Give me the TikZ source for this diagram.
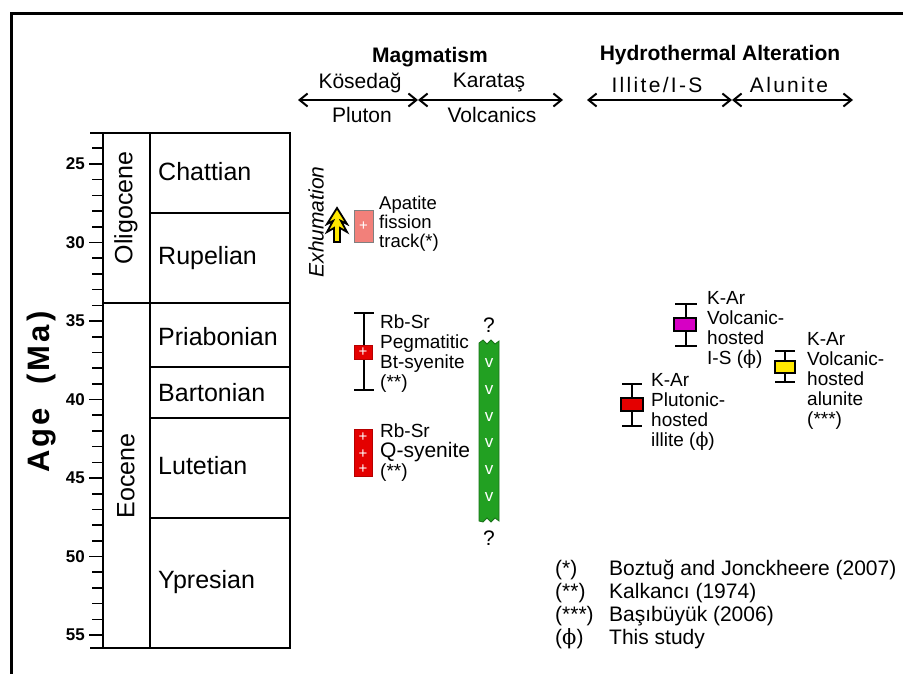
\documentclass[tikz,border=0pt]{standalone}
\usepackage{fontspec}
\setmainfont{Liberation Sans}
\newfontfamily\phifont{DejaVu Serif}
\newcommand{\ph}{{\phifont ϕ}}
\usetikzlibrary{arrows.meta}

\definecolor{salmon}{RGB}{242,128,122}
\definecolor{rockred}{RGB}{228,0,0}
\definecolor{ismag}{RGB}{214,0,196}
\definecolor{alyel}{RGB}{255,232,0}
\definecolor{volgreen}{RGB}{34,160,34}

\tikzset{
  stage/.style={anchor=base west, inner sep=0pt, font=\fontsize{25}{25}\selectfont},
  epoch/.style={rotate=90, inner sep=0pt, font=\fontsize{25}{25}\selectfont},
  ticklbl/.style={anchor=east, inner sep=0pt, font=\bfseries\fontsize{17}{17}\selectfont},
  hdr/.style={inner sep=0pt, font=\bfseries\fontsize{21}{21}\selectfont},
  sub/.style={inner sep=0pt, font=\fontsize{21}{21}\selectfont},
  spaced/.style={font=\fontsize{21}{21}\selectfont\addfontfeatures{LetterSpace=11}},
  span/.style={line width=2pt, {Straight Barb[length=8pt,width=13pt]}-{Straight Barb[length=8pt,width=13pt]}},
  smp/.style={anchor=west, inner sep=0pt, align=left, font=\fontsize{19}{20}\selectfont},
  errbar/.style={line width=1.5pt},
  agebox/.style={draw=black, line width=2pt, minimum width=22pt, minimum height=13pt, inner sep=0pt},
  rbbox/.style={fill=rockred, draw=rockred!80!black, line width=0.6pt, inner sep=0pt},
  plus/.style={text=white, inner sep=0pt, font=\fontsize{15}{15}\selectfont},
  vmark/.style={text=white, inner sep=0pt, font=\fontsize{17}{17}\selectfont},
  legtxt/.style={anchor=base west, inner sep=0pt, font=\fontsize{21}{22}\selectfont},
}

\begin{document}
\begin{tikzpicture}[x=1pt, y=-1pt]
\useasboundingbox (0,0) rectangle (903,674);
\draw[line width=3pt] (11,674) -- (11,14) -- (903,14);

% time scale
\node[rotate=90, inner sep=0pt, font=\bfseries\fontsize{31}{31}\selectfont\addfontfeatures{LetterSpace=10}] (agelbl) at (42,392) {Age\ \ (Ma)};
\draw[line width=2pt] (103,133) -- (103,648);
\foreach \m in {24,...,55} {
  \pgfmathsetmacro\yy{164+(\m-25)*15.7}
  \draw[line width=1.6pt] (92,\yy) -- (103,\yy);
}
\foreach \m in {25,30,...,55} {
  \pgfmathsetmacro\yy{164+(\m-25)*15.7}
  \draw[line width=1.6pt] (89,\yy) -- (103,\yy);
  \node[ticklbl] at (85,\yy) {\m};
}
\draw[line width=1.5pt] (90,133) -- (290,133) -- (290,648) -- (90,648);
\draw[line width=1.5pt] (150,133) -- (150,648);
\draw[line width=1.5pt] (103,303) -- (290,303);
\foreach \yb in {213,367,418,518}
  \draw[line width=1.5pt] (150,\yb) -- (290,\yb);
\node[epoch] (oligo) at (126,208) {Oligocene};
\node[epoch] (eoc) at (126,476) {Eocene};
\node[stage] (chat) at (158,181) {Chattian};
\node[stage] (rup) at (158,264) {Rupelian};
\node[stage] (pria) at (158,345) {Priabonian};
\node[stage] (bart) at (158,401) {Bartonian};
\node[stage] (lut) at (158,474) {Lutetian};
\node[stage] (ypr) at (158,588) {Ypresian};

% headers
\node[hdr] (magma) at (430,57) {Magmatism};
\node[hdr] (hydro) at (720,55) {Hydrothermal Alteration};
\coordinate (pL) at (298,100);
\coordinate (pM) at (418,100);
\coordinate (pR) at (563,100);
\coordinate (hL) at (587,100);
\coordinate (hM) at (732,100);
\coordinate (hR) at (853,100);
\draw[span] (pL) -- (pM);
\draw[span] (pM) -- (pR);
\draw[span] (hL) -- (hM);
\draw[span] (hM) -- (hR);
\node[sub] (kos) at (360,83) {Kösedağ};
\node[sub] (plu) at (362,115) {Pluton};
\node[sub] (kar) at (489,83) {Karataş};
\node[sub] (vol) at (492,115) {Volcanics};
\node[sub, spaced] (ill) at (657,85) {Illite/I-S};
\node[sub, spaced] (alu) at (789,85) {Alunite};

% exhumation
\node[rotate=90, inner sep=0pt, font=\itshape\fontsize{21}{21}\selectfont] (exh) at (316,222) {Exhumation};
\draw[fill=alyel, line width=1.8pt, line join=miter, shift={(337,225)}]
  (0,-17) -- (10,-1) -- (4,-4) -- (10,7) -- (3,3) -- (3,17) -- (-3,17)
  -- (-3,3) -- (-10,7) -- (-4,-4) -- (-10,-1) -- cycle;
\node[fill=salmon, draw=gray, line width=0.5pt, minimum width=19pt, minimum height=32pt, inner sep=0pt] (aft) at (363.5,226) {};
\node[plus] at (aft) {+};
\node[smp, font=\fontsize{18.5}{19}\selectfont] (aftlbl) at (379,224) {Apatite\\fission\\track(*)};

% Rb-Sr pegmatitic
\coordinate (pegT) at (364,313);
\coordinate (pegB) at (364,390);
\draw[errbar] (pegT) -- (pegB);
\draw[errbar] ([xshift=-10pt]pegT) -- ([xshift=10pt]pegT);
\draw[errbar] ([xshift=-10pt]pegB) -- ([xshift=10pt]pegB);
\node[rbbox, minimum width=18pt, minimum height=14pt] (peg) at (363,352) {};
\node[plus] at (peg) {+};
\node[smp] (peglbl) at (380,354) {Rb-Sr\\Pegmatitic\\Bt-syenite\\(**)};

% Rb-Sr Q-syenite
\node[rbbox, minimum width=18pt, minimum height=47pt] (qsy) at (363,452.5) {};
\foreach \yp in {437,454,469}
  \node[plus] at (363,\yp) {+};
\node[smp] (qsylbl) at (380,453) {Rb-Sr\\{\fontsize{21}{20}\selectfont Q-syenite}\\(**)};

% Karatas volcanics
\draw[fill=volgreen, draw=volgreen!70!black, line width=0.8pt]
  (479,521) -- (479,343) -- (483,340) -- (487,344) -- (491,340) -- (495,344) -- (499,341)
  -- (499,521) -- (495,518) -- (491,522) -- (487,518) -- (483,522) -- cycle;
\foreach \yv in {363,390,417,443,470,497}
  \node[vmark] at (489,\yv) {v};
\node[sub] (qtop) at (489,325) {?};
\node[sub] (qbot) at (489,538) {?};

% K-Ar volcanic-hosted I-S
\coordinate (isT) at (686,304);
\coordinate (isB) at (686,346);
\draw[errbar] (isT) -- (isB);
\draw[errbar] ([xshift=-11pt]isT) -- ([xshift=11pt]isT);
\draw[errbar] ([xshift=-11pt]isB) -- ([xshift=11pt]isB);
\node[agebox, fill=ismag] (is) at (685,324.5) {};
\node[smp] (islbl) at (707,330) {K-Ar\\Volcanic-\\hosted\\I-S (\ph)};

% K-Ar plutonic-hosted illite
\coordinate (ilT) at (632,384);
\coordinate (ilB) at (632,426);
\draw[errbar] (ilT) -- (ilB);
\draw[errbar] ([xshift=-10pt]ilT) -- ([xshift=10pt]ilT);
\draw[errbar] ([xshift=-10pt]ilB) -- ([xshift=10pt]ilB);
\node[agebox, fill=rockred] (il) at (632,404.5) {};
\node[smp] (illbl) at (651,412) {K-Ar\\Plutonic-\\hosted\\illite (\ph)};

% K-Ar alunite
\coordinate (alT) at (785,351);
\coordinate (alB) at (785,382);
\draw[errbar] (alT) -- (alB);
\draw[errbar] ([xshift=-10pt]alT) -- ([xshift=10pt]alT);
\draw[errbar] ([xshift=-10pt]alB) -- ([xshift=10pt]alB);
\node[agebox, fill=alyel, minimum width=20pt, minimum height=12pt] (al) at (785,367) {};
\node[smp] (allbl) at (807,381) {K-Ar\\Volcanic-\\hosted\\alunite\\(***)};

% references
\node[legtxt] (r1) at (555,575) {(*)};
\node[legtxt] (r2) at (555,598) {(**)};
\node[legtxt] (r3) at (555,621) {(***)};
\node[legtxt] (r4) at (555,644) {(\ph)};
\node[legtxt] (t1) at (609,575) {Boztuğ and Jonckheere (2007)};
\node[legtxt] (t2) at (609,598) {Kalkancı (1974)};
\node[legtxt] (t3) at (609,621) {Başıbüyük (2006)};
\node[legtxt] (t4) at (609,644) {This study};
\end{tikzpicture}
\end{document}
